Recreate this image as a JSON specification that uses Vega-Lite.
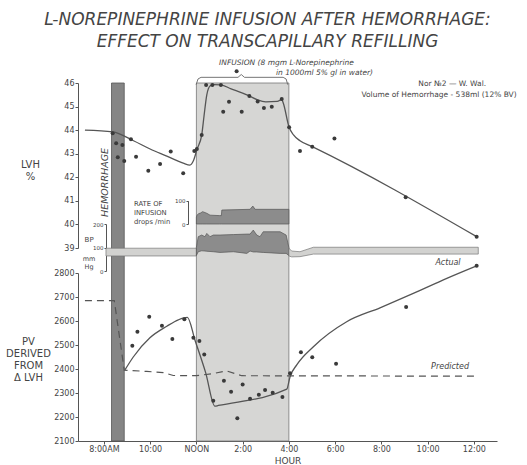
{
  "$schema": "https://vega.github.io/schema/vega-lite/v6.json",
  "width": 419,
  "height": 358,
  "autosize": "none",
  "padding": {"left": 78, "top": 83, "right": 30, "bottom": 24},
  "background": "white",
  "config": {
    "view": {"stroke": null},
    "font": "DejaVu Sans",
    "axis": {"grid": false, "domainColor": "#555", "tickColor": "#555", "labelColor": "#444", "titleColor": "#444", "labelFont": "DejaVu Sans", "titleFont": "DejaVu Sans", "labelFontSize": 8, "titleFontWeight": "normal", "tickSize": 3, "labelPadding": 1, "domainWidth": 1},
    "text": {"font": "DejaVu Sans", "color": "#444"}
  },
  "title": {
    "text": ["L-NOREPINEPHRINE INFUSION AFTER HEMORRHAGE:", "EFFECT ON TRANSCAPILLARY REFILLING"],
    "font": "DejaVu Sans", "fontSize": 17, "fontStyle": "italic", "fontWeight": "normal", "color": "#444",
    "lineHeight": 22, "anchor": "middle", "dx": -20, "dy": -8, "offset": 0
  },
  "datasets": {
    "lvh_obs": [
      {"h": 8.38, "lvh": 43.87}, {"h": 8.53, "lvh": 43.44}, {"h": 8.8, "lvh": 43.37}, {"h": 8.6, "lvh": 42.85}, {"h": 8.88, "lvh": 42.69},
      {"h": 9.17, "lvh": 43.61}, {"h": 9.39, "lvh": 42.87}, {"h": 9.92, "lvh": 42.28}, {"h": 10.43, "lvh": 42.56}, {"h": 10.89, "lvh": 43.09},
      {"h": 11.43, "lvh": 42.17}, {"h": 11.91, "lvh": 43.12}, {"h": 12.02, "lvh": 43.2}, {"h": 12.23, "lvh": 43.79}, {"h": 12.42, "lvh": 45.92},
      {"h": 12.69, "lvh": 45.92}, {"h": 13.06, "lvh": 45.92}, {"h": 13.16, "lvh": 44.78}, {"h": 13.41, "lvh": 45.2}, {"h": 13.74, "lvh": 46.5},
      {"h": 13.96, "lvh": 44.78}, {"h": 14.29, "lvh": 45.45}, {"h": 14.65, "lvh": 45.22}, {"h": 14.92, "lvh": 44.94}, {"h": 15.26, "lvh": 44.99},
      {"h": 15.69, "lvh": 45.32}, {"h": 16.01, "lvh": 44.12}, {"h": 16.48, "lvh": 43.12}, {"h": 17.01, "lvh": 43.3}, {"h": 17.97, "lvh": 43.65},
      {"h": 21.05, "lvh": 41.15}, {"h": 24.12, "lvh": 39.48}
    ],
    "lvh_fit": [
      {"h": 7.18, "lvh": 44.0}, {"h": 8.38, "lvh": 43.93}, {"h": 9.28, "lvh": 43.55}, {"h": 10.0, "lvh": 43.2}, {"h": 10.72, "lvh": 42.9},
      {"h": 11.43, "lvh": 42.6}, {"h": 11.72, "lvh": 42.52}, {"h": 11.87, "lvh": 42.7}, {"h": 12.03, "lvh": 43.2}, {"h": 12.23, "lvh": 43.79},
      {"h": 12.33, "lvh": 44.6}, {"h": 12.45, "lvh": 45.5}, {"h": 12.6, "lvh": 45.88}, {"h": 12.75, "lvh": 45.93}, {"h": 13.06, "lvh": 45.92},
      {"h": 13.5, "lvh": 45.75}, {"h": 14.0, "lvh": 45.57}, {"h": 14.29, "lvh": 45.45}, {"h": 14.65, "lvh": 45.28}, {"h": 15.0, "lvh": 45.2},
      {"h": 15.5, "lvh": 45.22}, {"h": 15.69, "lvh": 45.3}, {"h": 15.76, "lvh": 45.14}, {"h": 16.01, "lvh": 44.12}, {"h": 16.2, "lvh": 43.8},
      {"h": 16.48, "lvh": 43.55}, {"h": 17.01, "lvh": 43.3}, {"h": 24.12, "lvh": 39.48}
    ],
    "brace": [
      {"h": 11.99, "lvh": 45.93}, {"h": 12.07, "lvh": 46.17}, {"h": 12.2, "lvh": 46.24}, {"h": 13.8, "lvh": 46.24}, {"h": 13.94, "lvh": 46.36},
      {"h": 14.08, "lvh": 46.24}, {"h": 15.75, "lvh": 46.24}, {"h": 15.88, "lvh": 46.17}, {"h": 15.95, "lvh": 45.93}
    ],
    "pv_obs": [
      {"h": 9.23, "pv": 2497}, {"h": 9.45, "pv": 2555}, {"h": 9.96, "pv": 2618}, {"h": 10.51, "pv": 2580}, {"h": 10.96, "pv": 2525},
      {"h": 11.48, "pv": 2607}, {"h": 11.87, "pv": 2530}, {"h": 12.13, "pv": 2517}, {"h": 12.34, "pv": 2460}, {"h": 12.73, "pv": 2268},
      {"h": 13.19, "pv": 2351}, {"h": 13.5, "pv": 2305}, {"h": 13.77, "pv": 2195}, {"h": 14.0, "pv": 2335}, {"h": 14.32, "pv": 2276},
      {"h": 14.7, "pv": 2293}, {"h": 14.97, "pv": 2312}, {"h": 15.3, "pv": 2301}, {"h": 15.72, "pv": 2283}, {"h": 16.05, "pv": 2382},
      {"h": 16.52, "pv": 2470}, {"h": 17.01, "pv": 2449}, {"h": 18.04, "pv": 2422}, {"h": 21.07, "pv": 2658}, {"h": 24.12, "pv": 2830}
    ],
    "pv_actual": [
      {"h": 8.91, "pv": 2396}, {"h": 9.27, "pv": 2450}, {"h": 9.99, "pv": 2530}, {"h": 10.72, "pv": 2578}, {"h": 11.22, "pv": 2605},
      {"h": 11.61, "pv": 2615}, {"h": 11.94, "pv": 2520}, {"h": 12.4, "pv": 2385}, {"h": 12.8, "pv": 2245}, {"h": 12.95, "pv": 2248},
      {"h": 15.91, "pv": 2316}, {"h": 16.05, "pv": 2368}, {"h": 16.34, "pv": 2417}, {"h": 17.06, "pv": 2493}, {"h": 18.5, "pv": 2597},
      {"h": 19.94, "pv": 2655}, {"h": 21.38, "pv": 2715}, {"h": 22.83, "pv": 2778}, {"h": 24.12, "pv": 2830}
    ],
    "pv_pred": [
      {"h": 7.18, "pv": 2685}, {"h": 8.45, "pv": 2685}, {"h": 8.88, "pv": 2395}, {"h": 9.85, "pv": 2390}, {"h": 10.57, "pv": 2385},
      {"h": 11.0, "pv": 2373}, {"h": 12.0, "pv": 2372}, {"h": 12.66, "pv": 2380}, {"h": 13.31, "pv": 2392}, {"h": 13.96, "pv": 2372},
      {"h": 24.12, "pv": 2370}
    ],
    "bp": [
      {"phase": "pre", "h": 8.09, "hi": 97, "lo": 64}, {"phase": "pre", "h": 12.0, "hi": 97, "lo": 64},
      {"phase": "inf", "h": 12.0, "hi": 100, "lo": 66}, {"phase": "inf", "h": 12.08, "hi": 146, "lo": 82}, {"phase": "inf", "h": 12.23, "hi": 153, "lo": 86},
      {"phase": "inf", "h": 12.37, "hi": 146, "lo": 85}, {"phase": "inf", "h": 12.45, "hi": 160, "lo": 84}, {"phase": "inf", "h": 12.59, "hi": 146, "lo": 83},
      {"phase": "inf", "h": 12.73, "hi": 153, "lo": 82}, {"phase": "inf", "h": 13.02, "hi": 153, "lo": 79}, {"phase": "inf", "h": 13.6, "hi": 155, "lo": 82},
      {"phase": "inf", "h": 14.18, "hi": 157, "lo": 75}, {"phase": "inf", "h": 14.32, "hi": 157, "lo": 85}, {"phase": "inf", "h": 14.46, "hi": 174, "lo": 81},
      {"phase": "inf", "h": 14.61, "hi": 153, "lo": 81}, {"phase": "inf", "h": 14.75, "hi": 146, "lo": 80}, {"phase": "inf", "h": 14.89, "hi": 167, "lo": 79},
      {"phase": "inf", "h": 15.62, "hi": 167, "lo": 75}, {"phase": "inf", "h": 15.88, "hi": 153, "lo": 75}, {"phase": "inf", "h": 16.0, "hi": 100, "lo": 66},
      {"phase": "post", "h": 16.0, "hi": 97, "lo": 64}, {"phase": "post", "h": 16.12, "hi": 85, "lo": 60}, {"phase": "post", "h": 16.48, "hi": 82, "lo": 61},
      {"phase": "post", "h": 17.06, "hi": 101, "lo": 72}, {"phase": "post", "h": 24.19, "hi": 101, "lo": 72}
    ],
    "rate": [
      {"h": 12.0, "rate": 30}, {"h": 12.03, "rate": 38}, {"h": 12.1, "rate": 45}, {"h": 12.16, "rate": 46}, {"h": 12.27, "rate": 53},
      {"h": 12.45, "rate": 46}, {"h": 12.59, "rate": 38}, {"h": 13.0, "rate": 36}, {"h": 13.08, "rate": 36}, {"h": 13.1, "rate": 60},
      {"h": 14.32, "rate": 63}, {"h": 14.44, "rate": 77}, {"h": 14.54, "rate": 63}, {"h": 16.0, "rate": 63}
    ]
  },
  "layer": [
    {
      "data": {"values": [{"event": "Infusion", "start": 12, "end": 16}]},
      "mark": {"type": "rect", "fill": "#d6d6d4", "stroke": "#777", "strokeWidth": 0.8},
      "encoding": {
        "x": {"field": "start", "type": "quantitative", "title": "HOUR",
              "scale": {"domain": [6.88, 25], "nice": false, "zero": false},
              "axis": {"values": [8, 10, 12, 14, 16, 18, 20, 22, 24], "labelExpr": "datum.value == 8 ? '8:00AM' : datum.value == 12 ? 'NOON' : datum.value == 24 ? '12:00' : (datum.value % 12) + ':00'", "title": "HOUR", "titleFontSize": 9, "titlePadding": 3, "labelFontSize": 8}},
        "x2": {"field": "end"}
      }
    },
    {
      "data": {"values": [{"event": "Hemorrhage", "start": 8.33, "end": 8.88}]},
      "mark": {"type": "rect", "fill": "#858585", "stroke": "#555", "strokeWidth": 0.8},
      "encoding": {
        "x": {"field": "start", "type": "quantitative", "title": "HOUR"},
        "x2": {"field": "end"}
      }
    },
    {
      "layer": [
        {
          "data": {"name": "lvh_fit"},
          "mark": {"type": "line", "interpolate": "monotone", "color": "#555", "strokeWidth": 1.3},
          "encoding": {
            "x": {"field": "h", "type": "quantitative", "title": "HOUR"},
            "y": {"field": "lvh", "type": "quantitative", "title": ["LVH", "%"],
                  "scale": {"domain": [39, 46], "range": [165, 0], "nice": false, "zero": false},
                  "axis": {"orient": "left", "values": [39, 40, 41, 42, 43, 44, 45, 46], "title": ["LVH", "%"], "titleAngle": 0, "titleAlign": "center", "titleBaseline": "top", "titleX": -48, "titleY": 76, "titleFontSize": 10, "titleLineHeight": 12}}
          }
        },
        {
          "data": {"name": "lvh_obs"},
          "mark": {"type": "circle", "size": 16, "color": "#3a3a3a", "opacity": 1},
          "encoding": {
            "x": {"field": "h", "type": "quantitative", "title": "HOUR"},
            "y": {"field": "lvh", "type": "quantitative", "title": ["LVH", "%"]}
          }
        },
        {
          "data": {"name": "brace"},
          "mark": {"type": "line", "color": "#666", "strokeWidth": 0.9},
          "encoding": {
            "x": {"field": "h", "type": "quantitative", "title": "HOUR"},
            "y": {"field": "lvh", "type": "quantitative", "title": ["LVH", "%"]}
          }
        },
        {
          "data": {"values": [{}]},
          "mark": {"type": "text", "align": "left", "baseline": "middle", "fontSize": 7.5, "fontStyle": "italic", "color": "#444"},
          "encoding": {"x": {"datum": 12.98}, "y": {"datum": 46.85}, "text": {"value": "INFUSION (8 mgm L-Norepinephrine"}}
        },
        {
          "data": {"values": [{}]},
          "mark": {"type": "text", "align": "left", "baseline": "middle", "fontSize": 7.5, "fontStyle": "italic", "color": "#444"},
          "encoding": {"x": {"datum": 15.44}, "y": {"datum": 46.42}, "text": {"value": "in 1000ml 5% gl in water)"}}
        },
        {
          "data": {"values": [{}]},
          "mark": {"type": "text", "align": "right", "baseline": "middle", "fontSize": 7.5, "color": "#444"},
          "encoding": {"x": {"datum": 24.53}, "y": {"datum": 45.96}, "text": {"value": "Nor №2 — W. Wal."}}
        },
        {
          "data": {"values": [{}]},
          "mark": {"type": "text", "align": "right", "baseline": "middle", "fontSize": 7.5, "color": "#444"},
          "encoding": {"x": {"datum": 25.85}, "y": {"datum": 45.49}, "text": {"value": "Volume of Hemorrhage - 538ml (12% BV)"}}
        },
        {
          "data": {"values": [{}]},
          "mark": {"type": "text", "align": "center", "baseline": "middle", "angle": 270, "fontSize": 9.5, "fontStyle": "italic", "color": "#444"},
          "encoding": {"x": {"datum": 8.05}, "y": {"datum": 41.78}, "text": {"value": "HEMORRHAGE"}}
        },
        {
          "data": {"values": [{}]},
          "mark": {"type": "text", "align": "left", "baseline": "middle", "fontSize": 6.8, "lineHeight": 9, "color": "#444"},
          "encoding": {"x": {"datum": 9.3}, "y": {"datum": 40.87}, "text": {"value": ["RATE OF", "INFUSION", "drops /min"]}}
        }
      ]
    },
    {
      "layer": [
        {
          "data": {"name": "pv_pred"},
          "mark": {"type": "line", "color": "#555", "strokeWidth": 1.2, "strokeDash": [7, 5]},
          "encoding": {
            "x": {"field": "h", "type": "quantitative", "title": "HOUR"},
            "y": {"field": "pv", "type": "quantitative", "title": ["PV", "DERIVED", "FROM", "Δ LVH"],
                  "scale": {"domain": [2100, 2800], "range": [358, 190], "nice": false, "zero": false},
                  "axis": {"orient": "left", "values": [2100, 2200, 2300, 2400, 2500, 2600, 2700, 2800], "format": "d", "title": ["PV", "DERIVED", "FROM", "Δ LVH"], "titleAngle": 0, "titleAlign": "center", "titleBaseline": "top", "titleX": -50, "titleY": 253, "titleFontSize": 10, "titleLineHeight": 12}}
          }
        },
        {
          "data": {"name": "pv_actual"},
          "mark": {"type": "line", "interpolate": "monotone", "color": "#555", "strokeWidth": 1.3},
          "encoding": {
            "x": {"field": "h", "type": "quantitative", "title": "HOUR"},
            "y": {"field": "pv", "type": "quantitative", "title": ["PV", "DERIVED", "FROM", "Δ LVH"]}
          }
        },
        {
          "data": {"name": "pv_obs"},
          "mark": {"type": "circle", "size": 16, "color": "#3a3a3a", "opacity": 1},
          "encoding": {
            "x": {"field": "h", "type": "quantitative", "title": "HOUR"},
            "y": {"field": "pv", "type": "quantitative", "title": ["PV", "DERIVED", "FROM", "Δ LVH"]}
          }
        },
        {
          "data": {"values": [{}]},
          "mark": {"type": "text", "align": "center", "baseline": "middle", "fontSize": 8, "fontStyle": "italic", "color": "#444"},
          "encoding": {"x": {"datum": 22.88}, "y": {"datum": 2840}, "text": {"value": "Actual"}}
        },
        {
          "data": {"values": [{}]},
          "mark": {"type": "text", "align": "center", "baseline": "middle", "fontSize": 8, "fontStyle": "italic", "color": "#444"},
          "encoding": {"x": {"datum": 22.97}, "y": {"datum": 2410}, "text": {"value": "Predicted"}}
        }
      ]
    },
    {
      "layer": [
        {
          "data": {"name": "bp"},
          "transform": [{"filter": "datum.phase == 'pre'"}],
          "mark": {"type": "area", "fill": "#d2d2d0", "stroke": "#777", "strokeWidth": 0.7},
          "encoding": {
            "x": {"field": "h", "type": "quantitative", "title": "HOUR"},
            "y": {"field": "hi", "type": "quantitative", "title": null,
                  "scale": {"domain": [0, 200], "range": [188, 141], "nice": false, "zero": false},
                  "axis": {"orient": "left", "offset": -28, "values": [0, 100, 200], "labelFontSize": 5.5, "tickSize": 2, "title": null}},
            "y2": {"field": "lo"}
          }
        },
        {
          "data": {"name": "bp"},
          "transform": [{"filter": "datum.phase == 'inf'"}],
          "mark": {"type": "area", "fill": "#8c8c8c", "stroke": "#555", "strokeWidth": 0.7},
          "encoding": {
            "x": {"field": "h", "type": "quantitative", "title": "HOUR"},
            "y": {"field": "hi", "type": "quantitative", "title": null},
            "y2": {"field": "lo"}
          }
        },
        {
          "data": {"name": "bp"},
          "transform": [{"filter": "datum.phase == 'post'"}],
          "mark": {"type": "area", "fill": "#d2d2d0", "stroke": "#777", "strokeWidth": 0.7},
          "encoding": {
            "x": {"field": "h", "type": "quantitative", "title": "HOUR"},
            "y": {"field": "hi", "type": "quantitative", "title": null},
            "y2": {"field": "lo"}
          }
        },
        {
          "data": {"values": [{}]},
          "mark": {"type": "text", "align": "center", "baseline": "middle", "fontSize": 7, "lineHeight": 11, "color": "#444"},
          "encoding": {"x": {"datum": 7.36}, "y": {"datum": 132}, "text": {"value": "BP"}}
        },
        {
          "data": {"values": [{}]},
          "mark": {"type": "text", "align": "center", "baseline": "middle", "fontSize": 6.5, "lineHeight": 8, "color": "#444"},
          "encoding": {"x": {"datum": 7.36}, "y": {"datum": 52}, "text": {"value": ["mm", "Hg"]}}
        }
      ]
    },
    {
      "layer": [
        {
          "data": {"name": "rate"},
          "mark": {"type": "area", "fill": "#8c8c8c", "stroke": "#555", "strokeWidth": 0.7},
          "encoding": {
            "x": {"field": "h", "type": "quantitative", "title": "HOUR"},
            "y": {"field": "rate", "type": "quantitative", "title": null,
                  "scale": {"domain": [0, 100], "range": [141, 117.7], "nice": false, "zero": false},
                  "axis": {"orient": "left", "offset": -110, "values": [0, 100], "labelFontSize": 5.5, "tickSize": 2, "title": null}},
            "y2": {"datum": 0}
          }
        }
      ]
    }
  ],
  "resolve": {"scale": {"y": "independent"}, "axis": {"y": "independent"}}
}
